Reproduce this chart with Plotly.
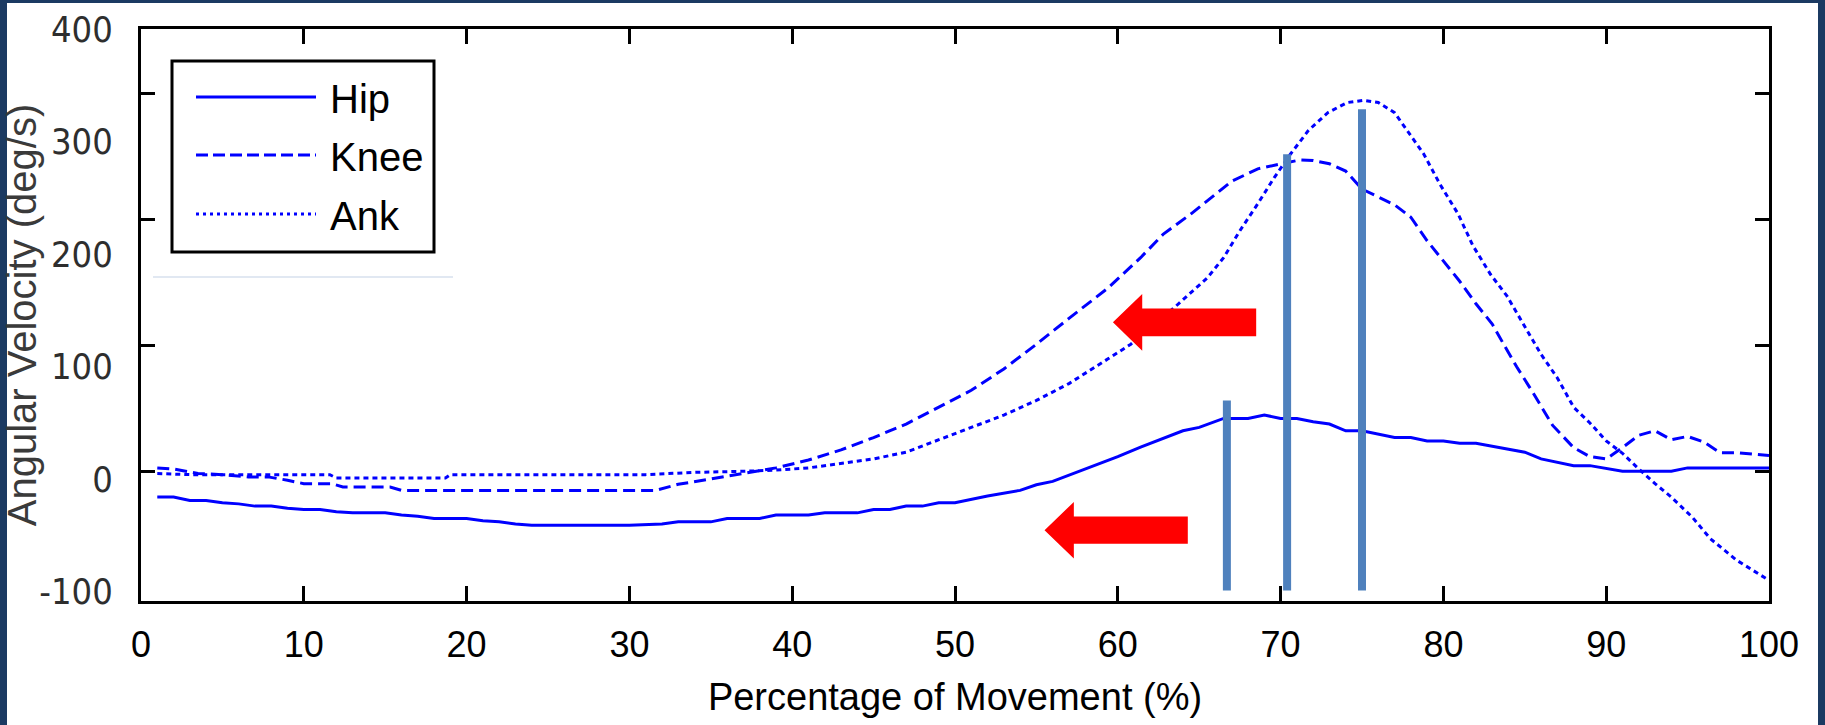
import plotly.graph_objects as go

# ---------------- data ----------------
hip_x = [1, 2, 3, 4, 5, 6, 7, 8, 9, 10, 11, 12, 13, 14, 15, 16, 17, 18, 19, 20,
         21, 22, 23, 24, 26, 28, 30, 32, 33, 35, 36, 38, 39, 41, 42, 44, 45, 46,
         47, 48, 49, 50, 52, 54, 55, 56, 58, 60, 61.4, 63, 64, 65, 66.5, 68, 69,
         70, 71, 72, 73, 74, 75, 77, 78, 79, 80, 81, 82, 83.5, 85, 86, 88, 89, 91,
         94, 95, 100]
hip_y = [-16, -16, -19, -19, -21, -22, -24, -24, -26, -27, -27, -29, -30, -30, -30,
         -32, -33, -35, -35, -35, -37, -38, -40, -41, -41, -41, -41, -40, -38, -38,
         -35, -35, -32, -32, -30, -30, -27, -27, -24, -24, -21, -21, -15, -10, -5,
         -2, 9, 20, 28.5, 37, 43, 46, 54, 54, 57, 54, 54, 51, 49, 43, 43, 37, 37,
         34, 34, 32, 32, 28, 24, 18, 12, 12, 7, 7, 10, 10]

knee_x = [1, 2, 3.5, 5, 6.6, 7.8, 9, 10, 11.7, 12.4, 15.3, 16, 20, 25, 31.6, 33, 35,
          37, 39, 41, 43, 45, 47, 49, 51, 53, 55, 57, 59.4, 61.4, 62.8, 64.5, 67,
          68.6, 70.2, 71.2, 72, 73, 74, 75, 77, 78, 79, 80, 81, 82, 83, 83.7, 84.5,
          85.5, 86.7, 88, 89, 90, 91, 92, 93, 94, 95, 96, 97, 98, 100]
knee_y = [10, 9, 5, 4, 2, 2, -1, -4, -4, -7, -7, -10, -10, -10, -10, -4.6, 0, 5, 10,
          17, 26, 37, 49, 64, 79, 98, 120, 143, 170, 197, 218, 236, 265, 276, 281,
          284, 283.5, 280.5, 274, 258, 244, 233, 212, 194, 176, 156, 138, 120, 100,
          77, 48, 28, 20, 18, 28, 39, 43, 35, 38, 33, 23.5, 23.5, 21]

ank_x = [1, 3, 11.6, 12, 18.7, 19, 31, 34, 37, 39, 41, 43, 45, 47, 49, 51, 53, 55,
         57, 59.4, 60.8, 63.5, 65.5, 66.5, 67.5, 68.6, 69.6, 70.6, 71.7, 72.9, 74.1,
         75.1, 76, 77, 77.8, 78.8, 79.8, 80.9, 81.8, 82.9, 83.9, 84.9, 86, 87, 88,
         89, 90, 91, 92, 93, 94, 95.3, 96.4, 98, 100]
ank_y = [5, 4, 4, 1, 1, 4, 4, 6, 7, 8, 10, 14, 18, 24, 35, 46, 57, 70, 85, 107, 120,
         153, 179, 197, 221, 245, 268, 289, 310, 326, 335, 337, 335, 326, 310, 289,
         262, 236, 208, 182, 163, 138, 111, 90, 64, 50, 34, 23, 9, -4, -16, -34, -53,
         -72, -90]

# peak markers (vertical bars): x position and top value
peak_x = [66.7, 70.4, 75.0]
peak_top = [70, 289, 329]
peak_bottom = [-99, -99, -99]

x_ticks = [0, 10, 20, 30, 40, 50, 60, 70, 80, 90, 100]
y_ticks = [-100, 0, 100, 200, 300, 400]
y_minor_marks = [0, 100, 200, 300]

series_names = ["Hip", "Knee", "Ank"]

# ---------------- layout geometry ----------------
W, H = 1825, 725
L, R, T, B = 141, 56, 29, 124
PW = W - L - R
PH = H - T - B


def px(x):
    return (x - L) / PW


def py(y):
    return (H - B - y) / PH


BLUE = "#0000FF"
NAVY = "#1b3a62"
FONT = "Liberation Sans, Arial, sans-serif"
NARROW = "Liberation Sans Narrow, Arial Narrow, DejaVu Sans Condensed, sans-serif"

dashes = ["solid", "12px,6px", "5px,4px"]

fig = go.Figure()

for name, xs, ys, dash in zip(series_names, [hip_x, knee_x, ank_x],
                              [hip_y, knee_y, ank_y], dashes):
    fig.add_trace(go.Scatter(x=xs, y=ys, mode="lines", name=name,
                             line=dict(color=BLUE, width=3, dash=dash),
                             showlegend=False, hoverinfo="skip"))

# vertical peak bars
bx, by = [], []
for x0, t0, b0 in zip(peak_x, peak_top, peak_bottom):
    bx += [x0, x0, None]
    by += [b0, t0, None]
fig.add_trace(go.Scatter(x=bx, y=by, mode="lines",
                         line=dict(color="#4F81BD", width=8),
                         showlegend=False, hoverinfo="skip"))

# red left-pointing arrows (tip_x, tip_y, head_back_x, head_half, shaft_half, tail_x)
arrows = [(59.7, 139.5, 61.5, 25.2, 12.3, 68.5),
          (55.5, -45.4, 57.3, 25.1, 12.1, 64.3)]
for tx, ty, hb, hh, sh, tail in arrows:
    ax_ = [tx, hb, hb, tail, tail, hb, hb, tx]
    ay_ = [ty, ty + hh, ty + sh, ty + sh, ty - sh, ty - sh, ty - hh, ty]
    fig.add_trace(go.Scatter(x=ax_, y=ay_, mode="lines", fill="toself",
                             fillcolor="#FF0000", line=dict(color="#FF0000", width=0),
                             showlegend=False, hoverinfo="skip"))

# carrier for the tick-only overlay axis
fig.add_trace(go.Scatter(x=[None], y=[None], yaxis="y2", mode="lines",
                         showlegend=False, hoverinfo="skip"))

shapes = []
# white card on navy frame (no frame at the bottom)
shapes.append(dict(type="rect", xref="paper", yref="paper", layer="below",
                   x0=px(7), x1=px(1818), y0=py(730), y1=py(3),
                   fillcolor="white", line=dict(width=0)))
# manual legend box
shapes.append(dict(type="rect", xref="paper", yref="paper",
                   x0=px(172), x1=px(434), y0=py(252), y1=py(61),
                   fillcolor="white", line=dict(color="black", width=3)))
leg_y = [97, 155, 214]
annotations = []
for name, dash, ly in zip(series_names, ["solid", "12px,5px", "3px,4px"], leg_y):
    shapes.append(dict(type="line", xref="paper", yref="paper",
                       x0=px(196), x1=px(316), y0=py(ly), y1=py(ly),
                       line=dict(color=BLUE, width=3, dash=dash)))
    annotations.append(dict(x=px(328), y=py(ly + 2), xref="paper", yref="paper",
                            text=name, showarrow=False, xanchor="left",
                            yanchor="middle",
                            font=dict(family=FONT, size=40, color="black")))
# faint line under legend
shapes.append(dict(type="line", xref="paper", yref="paper",
                   x0=px(153), x1=px(453), y0=py(277), y1=py(277),
                   line=dict(color="#d7e1ee", width=1.5)))

fig.update_layout(
    width=W, height=H,
    margin=dict(l=L, r=R, t=T, b=B, pad=0, autoexpand=False),
    paper_bgcolor=NAVY, plot_bgcolor="white",
    showlegend=False,
    shapes=shapes, annotations=annotations,
    xaxis=dict(range=[0, 100], tickvals=x_ticks, ticktext=[str(v) for v in x_ticks],
               ticks="inside", ticklen=15, tickwidth=3, tickcolor="black",
               showline=True, linewidth=3, linecolor="black", mirror="ticks",
               showgrid=False, zeroline=False, ticklabelstandoff=10,
               automargin=False,
               tickfont=dict(family=FONT, size=36, color="black"),
               title=dict(text="Percentage of Movement (%)", standoff=20,
                          font=dict(family=FONT, size=38, color="black"))),
    yaxis=dict(range=[-108.4, 400.4], tickvals=y_ticks, ticktext=[str(v) for v in y_ticks],
               ticks="", showline=True, linewidth=3, linecolor="black", mirror=True,
               showgrid=False, zeroline=False, ticklabelstandoff=18,
               automargin=False,
               tickfont=dict(family=NARROW, size=36, color="#2e2e2e"),
               title=dict(text="Angular Velocity (deg/s)", standoff=10,
                          font=dict(family=FONT, size=40, color="#3a3a3a"))),
    yaxis2=dict(overlaying="y", side="left", range=[-103.2, 351.6],
                tickvals=y_minor_marks, ticks="inside", ticklen=14, tickwidth=3,
                tickcolor="black", showticklabels=False, showline=True,
                linewidth=3, linecolor="black", mirror="ticks",
                showgrid=False, zeroline=False, automargin=False),
)

fig.write_html(
    "out.html",
    config={"displayModeBar": False},
    post_script="document.body.style.margin='0';document.body.style.padding='0';"
                "document.documentElement.style.overflow='hidden';",
)
